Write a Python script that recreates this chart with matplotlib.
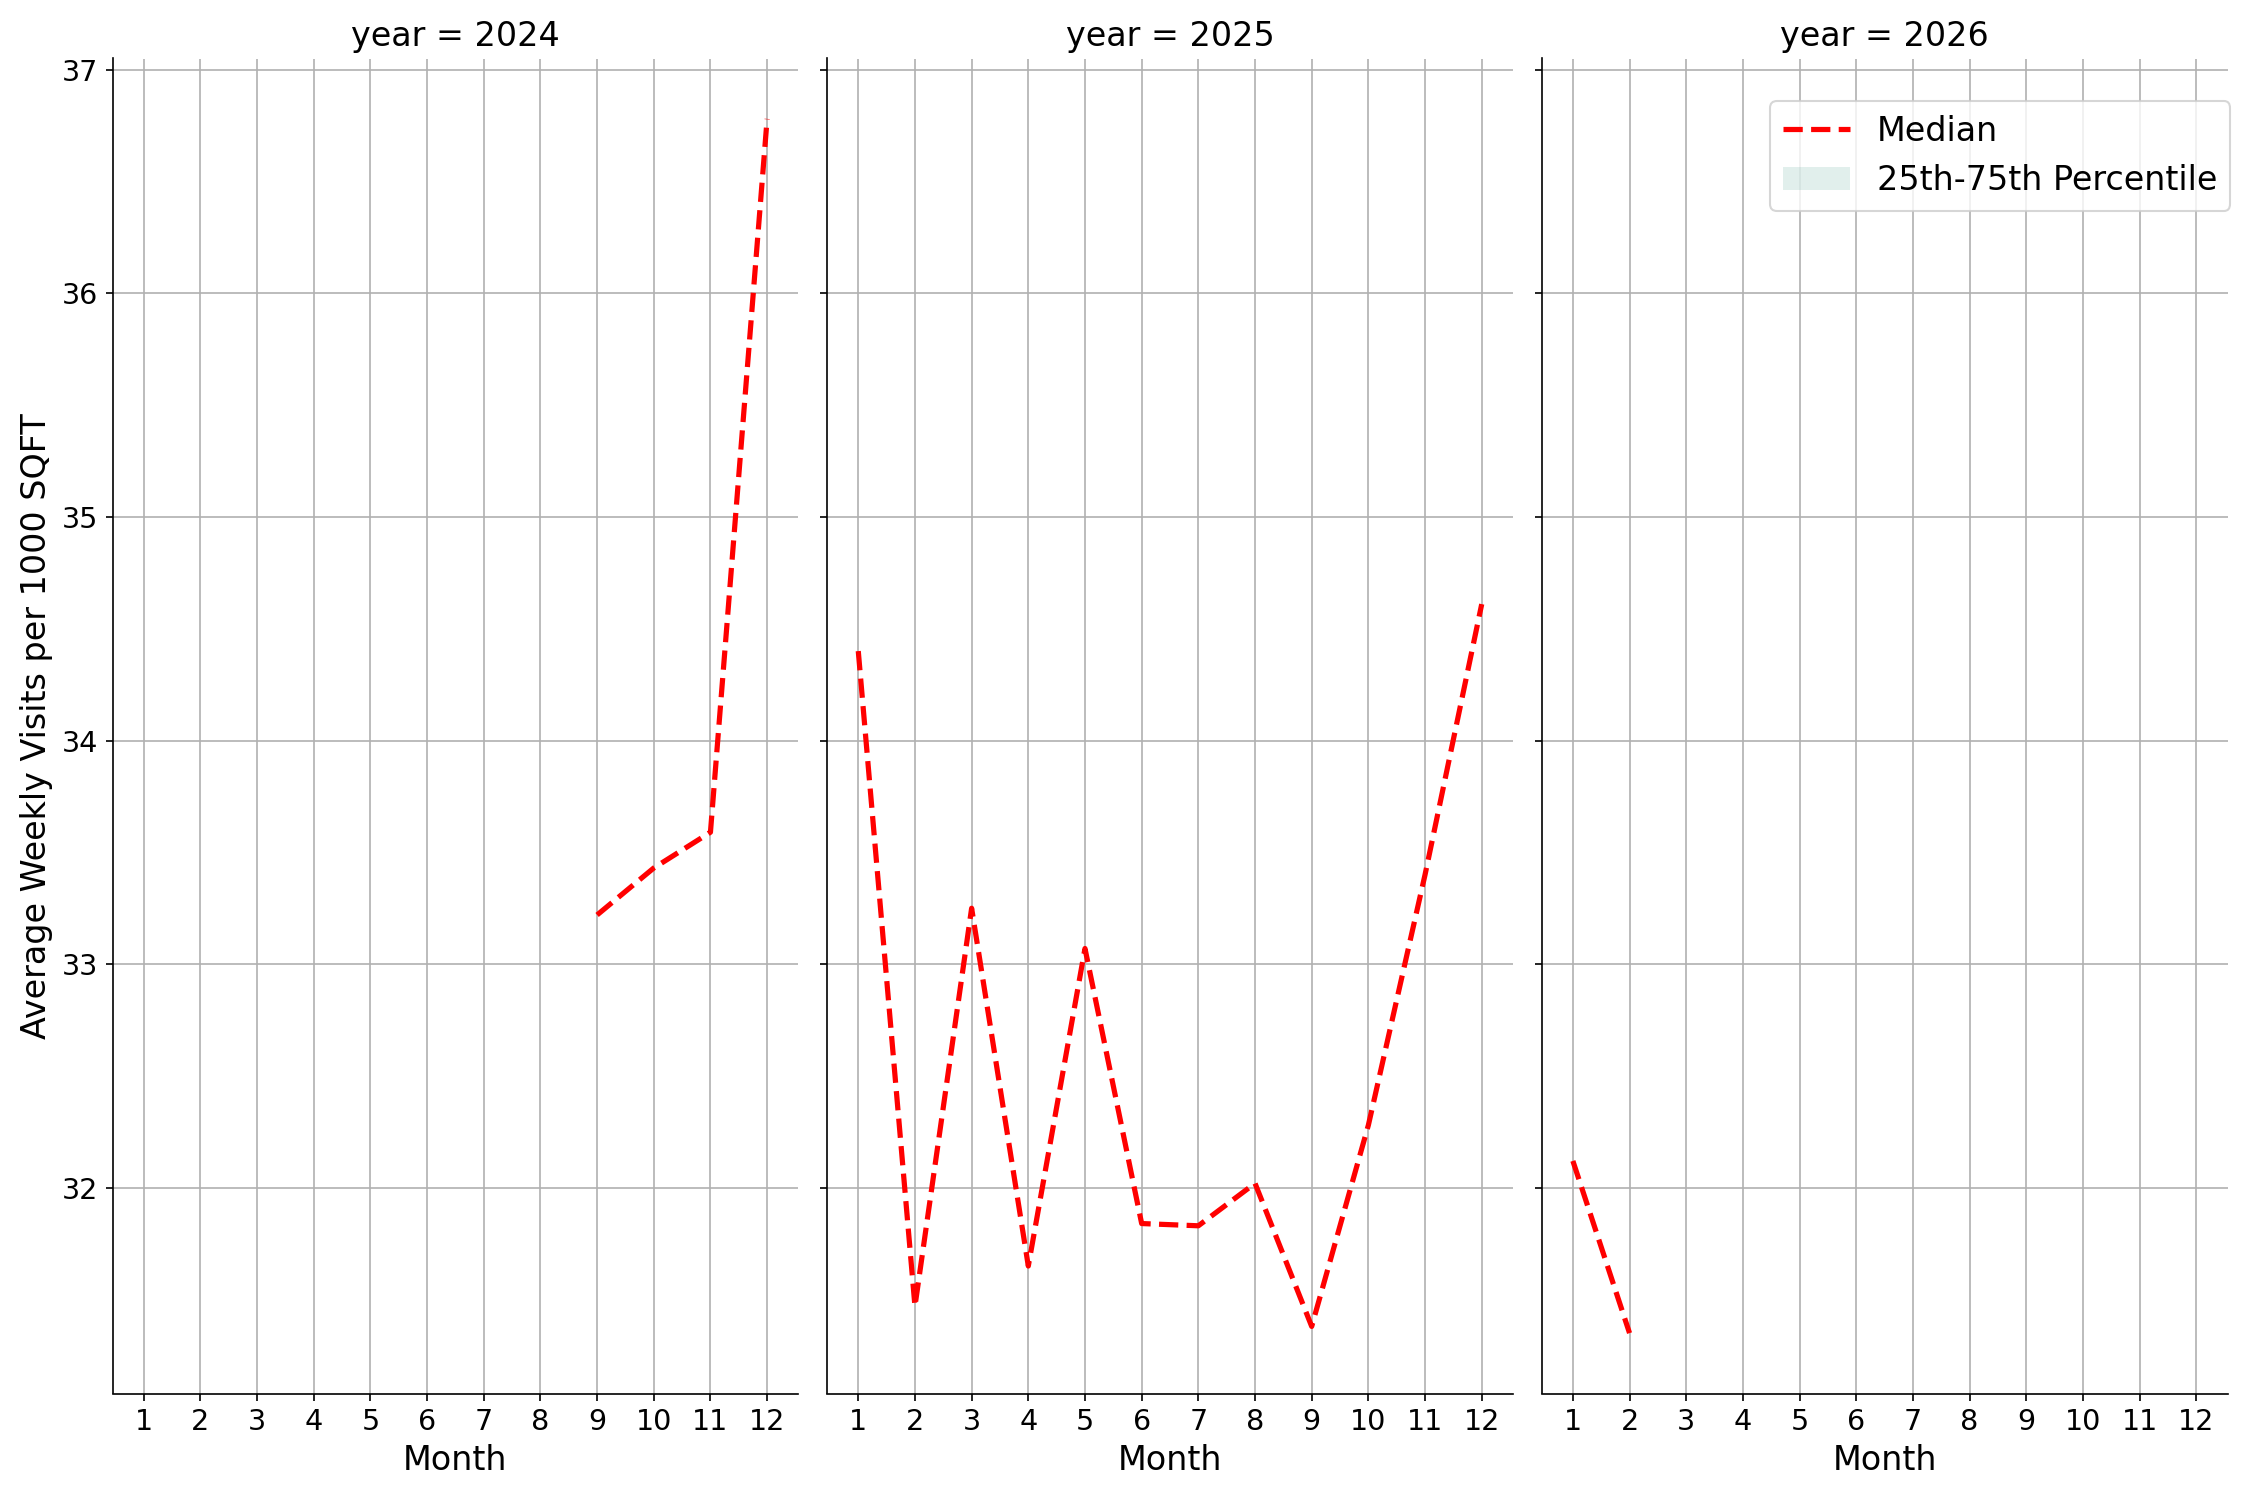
import numpy as np
import matplotlib
matplotlib.use('Agg')
import matplotlib.pyplot as plt
from matplotlib.patches import Patch

#data (median weekly visits per 1000 sqft)
years = [2024, 2025, 2026]
months_2024 = [9, 10, 11, 12]
median_2024 = [33.22, 33.43, 33.59, 36.78]
months_2025 = [1, 2, 3, 4, 5, 6, 7, 8, 9, 10, 11, 12]
median_2025 = [34.40, 31.47, 33.25, 31.65, 33.07, 31.84, 31.83, 32.02, 31.38, 32.28, 33.40, 34.61]
months_2026 = [1, 2]
median_2026 = [32.12, 31.35]
month_ticks = list(range(1, 13))

series = {2024: (months_2024, median_2024),
          2025: (months_2025, median_2025),
          2026: (months_2026, median_2026)}

fig, axes = plt.subplots(1, 3, figsize=(15, 10), dpi=150, sharey=True)
fig.subplots_adjust(left=0.050, right=0.990, top=0.961, bottom=0.071, wspace=0.042)

for ax, yr in zip(axes, years):
    m, med = series[yr]
    ax.plot(m, med, color='red', linestyle='--', linewidth=2.5, label='Median')
    ax.set_title(f'year = {yr}', fontsize=16)
    ax.set_xlabel('Month', fontsize=16)
    ax.set_xticks(month_ticks)
    ax.set_xlim(0.45, 12.55)
    ax.tick_params(labelsize=13.75)
    ax.grid(True, color='#b0b0b0', linewidth=0.8)
    ax.set_axisbelow(True)
    for side in ['top', 'right']:
        ax.spines[side].set_visible(False)

axes[0].set_ylim(31.08, 37.05)
axes[0].set_yticks([32, 33, 34, 35, 36, 37])
axes[0].set_ylabel('Average Weekly Visits per 1000 SQFT', fontsize=16)

#legend sits a little lower and pokes past the right edge of the last panel
handles = [axes[2].lines[0], Patch(facecolor='#69b3a2', alpha=0.2, edgecolor='none')]
axes[2].legend(handles, ['Median', '25th-75th Percentile'], loc='upper right',
               bbox_to_anchor=(1.004, 0.968), borderaxespad=0, fontsize=16)

plt.savefig('out.png')
